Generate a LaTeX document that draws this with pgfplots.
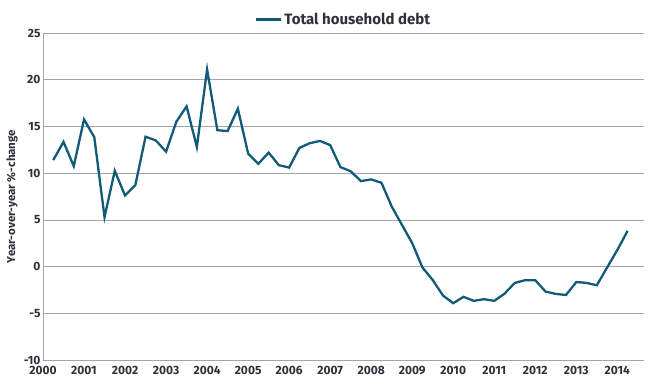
\documentclass[border=0pt]{standalone}
\usepackage{pgfplots}
\pgfplotsset{compat=1.18}
\usepackage{fontspec}
\setmainfont{Fira Sans}
\definecolor{linec}{RGB}{18,90,120}
\definecolor{gridc}{RGB}{160,166,172}
\definecolor{textc}{RGB}{45,50,58}
\begin{document}
\begin{tikzpicture}
\path[use as bounding box] (0,0) rectangle (650pt,383pt);
\begin{axis}[
  at={(43pt,23pt)}, anchor=south west,
  scale only axis, width=601pt, height=327pt,
  xmin=2000, xmax=2014.65, ymin=-10, ymax=25,
  xtick={2000,2001,...,2014}, ytick={-10,-5,...,25},
  xticklabel style={/pgf/number format/1000 sep={}, yshift=-3pt},
  yticklabel style={xshift=1pt},
  /pgf/number format/assume math mode=true,
  tick label style={font=\fontsize{12}{14}\selectfont\bfseries, text=textc},
  major tick length=0pt,
  ymajorgrids, grid style={gridc, line width=0.7pt},
  axis lines*=left,
  x axis line style={draw=none},
  y axis line style={gridc, line width=0.7pt},
  ylabel={Year-over-year \%-change},
  ylabel style={font=\fontsize{11.5}{13}\selectfont\bfseries, text=textc, at={(axis description cs:-0.0516,0.5)}, anchor=center},
  legend style={draw=none, at={(axis description cs:0.5,1)}, anchor=south, yshift=3pt, font=\fontsize{15}{17}\selectfont\bfseries, text=textc},
  legend image code/.code={\draw[#1, line width=2.6pt] (0pt,0pt) -- (25pt,0pt);},
  clip=false,
]
\addplot[linec, line width=2.3pt] coordinates {
(2000.25,11.4) (2000.5,13.35) (2000.75,10.75) (2001.0,15.75) (2001.25,13.85)
(2001.5,5.3) (2001.75,10.25) (2002.0,7.6) (2002.25,8.7) (2002.5,13.9)
(2002.75,13.5) (2003.0,12.3) (2003.25,15.5) (2003.5,17.15) (2003.75,12.8)
(2004.0,21.1) (2004.25,14.6) (2004.5,14.5) (2004.75,16.9) (2005.0,12.1)
(2005.25,11.0) (2005.5,12.2) (2005.75,10.85) (2006.0,10.6) (2006.25,12.7)
(2006.5,13.2) (2006.75,13.45) (2007.0,13.0) (2007.25,10.65) (2007.5,10.2)
(2007.75,9.15) (2008.0,9.33) (2008.25,8.97) (2008.5,6.43) (2008.75,4.46)
(2009.0,2.5) (2009.25,-0.1) (2009.5,-1.44) (2009.75,-3.1) (2010.0,-3.92)
(2010.25,-3.24) (2010.5,-3.67) (2010.75,-3.49) (2011.0,-3.67) (2011.25,-2.9)
(2011.5,-1.75) (2011.75,-1.46) (2012.0,-1.46) (2012.25,-2.68) (2012.5,-2.93)
(2012.75,-3.04) (2013.0,-1.65) (2013.25,-1.75) (2013.5,-2.0) (2013.75,-0.1)
(2014.0,1.78) (2014.25,3.82)
};
\addlegendentry{Total household debt}
\end{axis}
\end{tikzpicture}
\end{document}
